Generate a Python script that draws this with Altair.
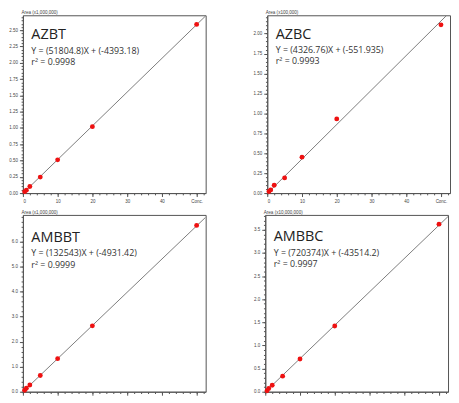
import altair as alt
import pandas as pd

# ---- data ----
conc = [0.5, 1, 2, 5, 10, 20, 50]

names = ["AZBT", "AZBC", "AMBBT", "AMBBC"]
equations = ["Y = (51804.8)X + (-4393.18)", "Y = (4326.76)X + (-551.935)",
             "Y = (132543)X + (-4931.42)", "Y = (720374)X + (-43514.2)"]
r2_labels = ["r\u00b2 = 0.9998", "r\u00b2 = 0.9993", "r\u00b2 = 0.9999", "r\u00b2 = 0.9997"]
slopes = [51804.8, 4326.76, 132543, 720374]
intercepts = [-4393.18, -551.935, -4931.42, -43514.2]
area_scales = [1_000_000, 100_000, 1_000_000, 10_000_000]
area_titles = ["Area (x1,000,000)", "Area (x100,000)", "Area (x1,000,000)", "Area (x10,000,000)"]

azbt_area = [0.022, 0.045, 0.10, 0.245, 0.51, 1.02, 2.59]
azbc_area = [0.02, 0.04, 0.098, 0.19, 0.45, 0.93, 2.11]
ambbt_area = [0.06, 0.14, 0.27, 0.65, 1.32, 2.63, 6.64]
ambbc_area = [0.02, 0.07, 0.14, 0.336, 0.706, 1.42, 3.62]
areas = [azbt_area, azbc_area, ambbt_area, ambbc_area]

y_max = [2.73, 2.23, 7.06, 3.82]
y_major = [0.25, 0.25, 1.0, 0.5]
y_minor = [0.05, 0.05, 0.2, 0.1]
y_format = [".2f", ".2f", ".1f", ".1f"]
x_max = 52.6
x_major = 10
x_minor = 2
conc_label_at = 50

# ---- styles / layout (whole chart must fit 443 x 387) ----
W = 184
H_rows = [179, 178]
COL_SPACING = 46
ROW_SPACING = 6
AX_COLOR = "#555555"
LBL_FONT = "Liberation Sans"
TXT_FONT = "Open Sans"
text_y = [[24, 38.5, 50.5], [23.5, 37.5, 49.5], [27, 41, 53], [26.5, 41, 52]]


def steps(step, top):
    n = int(round(top / step + 1e-9)) + 1
    return [round(k * step, 4) for k in range(n) if k * step <= top + 1e-9]


def panel(i):
    bottom_row = i >= 2
    df = pd.DataFrame({"conc": conc, "area": areas[i]})
    fit = pd.DataFrame({"conc": [0.0, x_max]})
    fit["area"] = (slopes[i] * fit["conc"] + intercepts[i]) / area_scales[i]

    x_major_vals = steps(x_major, x_max)
    x_minor_vals = steps(x_minor, x_max)
    y_major_vals = [v for v in steps(y_major[i], y_max[i]) if v <= y_max[i] * 0.98]
    y_minor_vals = steps(y_minor[i], y_max[i])

    xs = alt.Scale(domain=[0, x_max], nice=False, zero=True)
    ys = alt.Scale(domain=[0, y_max[i]], nice=False, zero=True)
    common = dict(grid=False, labelOverlap=False, labelFontSize=4.5, labelFont=LBL_FONT,
                  labelColor="#444", domainColor=AX_COLOR, tickColor=AX_COLOR)

    x_ax = alt.Axis(values=x_major_vals + [conc_label_at], title=None, tickSize=3.5,
                    labelExpr=f"datum.value == {conc_label_at} ? 'Conc.' : datum.label",
                    labels=not bottom_row, labelPadding=1.5, **common)
    y_ax = alt.Axis(values=y_major_vals, format=y_format[i], tickSize=3.5, labelPadding=2,
                    title=area_titles[i], titleAngle=0, titleAlign="left", titleBaseline="bottom",
                    titleX=-2, titleY=-0.5, titleFontSize=4.6, titleFontWeight="normal",
                    titleFont=LBL_FONT, titleColor="#444", **common)
    x_ax_minor = alt.Axis(values=x_minor_vals, title=None, labels=False, domain=False, tickSize=1.8,
                          orient="bottom", grid=False, tickColor=AX_COLOR)
    y_ax_minor = alt.Axis(values=y_minor_vals, title=None, labels=False, domain=False, tickSize=1.8,
                          orient="left", grid=False, tickColor=AX_COLOR)

    fit_line = alt.Chart(fit).mark_line(color="#7d7d7d", strokeWidth=1, clip=True).encode(
        x=alt.X("conc:Q", scale=xs, axis=x_ax), y=alt.Y("area:Q", scale=ys, axis=y_ax))
    minor = alt.Chart(fit).mark_line(opacity=0, clip=True).encode(
        x=alt.X("conc:Q", scale=xs, axis=x_ax_minor), y=alt.Y("area:Q", scale=ys, axis=y_ax_minor))
    pts = alt.Chart(df).mark_circle(color="#ee1111", size=24, opacity=1).encode(
        x=alt.X("conc:Q", scale=xs, axis=None), y=alt.Y("area:Q", scale=ys, axis=None))

    layers = [fit_line, minor, pts]
    ty = text_y[i]
    for txt, fs, yy, col in [(names[i], 14.5, ty[0], "#222"), (equations[i], 8.9, ty[1], "#333"),
                             (r2_labels[i], 8.9, ty[2], "#333")]:
        layers.append(alt.Chart(pd.DataFrame({"t": [txt]})).mark_text(
            align="left", baseline="alphabetic", font=TXT_FONT, fontSize=fs, color=col
        ).encode(text="t:N", x=alt.value(8.5), y=alt.value(yy)))

    return alt.layer(*layers).properties(width=W, height=H_rows[i // 2]).resolve_axis(
        x="independent", y="independent")


chart = alt.vconcat(
    alt.hconcat(panel(0), panel(1), spacing=COL_SPACING),
    alt.hconcat(panel(2), panel(3), spacing=COL_SPACING),
    spacing=ROW_SPACING,
).properties(padding=0).configure_view(stroke=AX_COLOR, strokeWidth=1)

chart.save("out.html", embed_options={"renderer": "svg", "actions": False})
